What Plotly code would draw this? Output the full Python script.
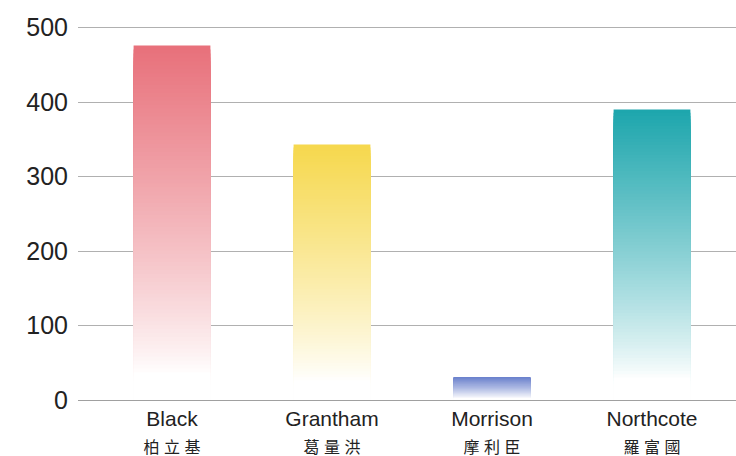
import plotly.graph_objects as go

# ---- data ----
names_en = ["Black", "Grantham", "Morrison", "Northcote"]
names_zh = ["柏立基", "葛量洪", "摩利臣", "羅富國"]
values = [476, 343, 31, 390]
top_colors = ["#e8717b", "#f6d84e", "#6a80cc", "#1ea6ad"]
y_ticks = [0, 100, 200, 300, 400, 500]

N_STEPS = 90
WHITE_FRAC = 0.08


def hex_to_rgb(h):
    h = h.lstrip("#")
    return tuple(int(h[i:i + 2], 16) for i in (0, 2, 4))


def mix(c, t):
    r, g, b = hex_to_rgb(c)
    return "rgb(%d,%d,%d)" % (
        round(255 + (r - 255) * t),
        round(255 + (g - 255) * t),
        round(255 + (b - 255) * t),
    )


xs, ys, cols = [], [], []
for i, (v, c) in enumerate(zip(values, top_colors)):
    for k in range(N_STEPS):
        frac = 1 - k / N_STEPS
        xs.append(i)
        ys.append(v * frac)
        t = max(0.0, min(1.0, (frac - WHITE_FRAC) / (1 - WHITE_FRAC)))
        cols.append(mix(c, t ** 0.85))

fig = go.Figure()
fig.add_trace(go.Bar(
    x=xs, y=ys, width=0.48,
    marker=dict(color=cols, line=dict(width=0)),
    hoverinfo="skip", showlegend=False,
))

ticktext = [
    f"{en}<br><span style='font-size:16px'>{' '.join(zh)}</span>"
    for en, zh in zip(names_en, names_zh)
]

font_family = "Liberation Sans, Arial, Noto Sans CJK TC, sans-serif"

fig.update_layout(
    width=736, height=456,
    margin=dict(l=78, r=0, t=24, b=56),
    paper_bgcolor="white", plot_bgcolor="white",
    barmode="overlay",
    font=dict(family=font_family, color="#222222"),
    xaxis=dict(
        range=[-0.5875, 3.525],
        tickvals=list(range(len(names_en))),
        ticktext=ticktext,
        tickfont=dict(size=21, color="#222222"),
        showgrid=False, zeroline=False, showline=False,
        ticks="",
        ticklabelstandoff=4,
    ),
    yaxis=dict(
        range=[0, 505],
        tickvals=y_ticks,
        tickfont=dict(size=25, color="#222222"),
        showgrid=True, gridcolor="#b0b0b0", gridwidth=1,
        zeroline=True, zerolinecolor="#a0a0a0", zerolinewidth=1,
        showline=False, ticks="",
        ticklabelstandoff=9,
    ),
)

fig.write_html("out.html")
